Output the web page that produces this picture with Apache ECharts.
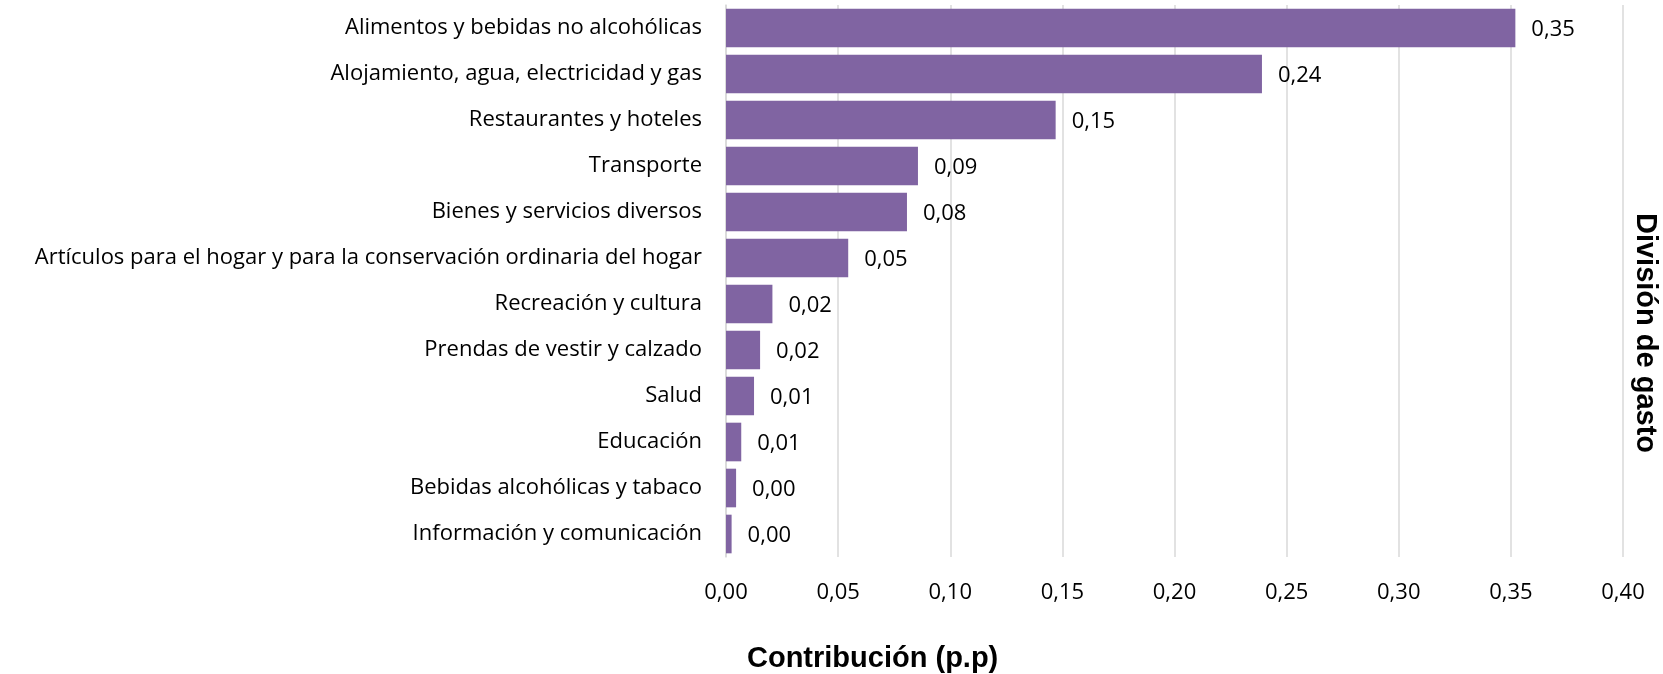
<!DOCTYPE html>
<html>
<head>
<meta charset="utf-8">
<script src="https://cdn.jsdelivr.net/npm/echarts@6/dist/echarts.min.js"></script>
<style>
html,body{margin:0;padding:0;background:#fff;}
#chart{width:1663px;height:674px;}
</style>
</head>
<body>
<div id="chart"></div>
<script>
const categories = [
  "Alimentos y bebidas no alcohólicas",
  "Alojamiento, agua, electricidad y gas",
  "Restaurantes y hoteles",
  "Transporte",
  "Bienes y servicios diversos",
  "Artículos para el hogar y para la conservación ordinaria del hogar",
  "Recreación y cultura",
  "Prendas de vestir y calzado",
  "Salud",
  "Educación",
  "Bebidas alcohólicas y tabaco",
  "Información y comunicación"
];
const values = [0.352, 0.239, 0.147, 0.0856, 0.0807, 0.0545, 0.0207, 0.0152, 0.0125, 0.0068, 0.0045, 0.0025];
const xTicks = { min: 0, max: 0.4, interval: 0.05 };
const xTitle = "Contribución (p.p)";
const yTitle = "División de gasto";

const fmt = v => Number(v).toFixed(2).replace('.', ',');
const chart = echarts.init(document.getElementById('chart'), null, {renderer: 'canvas'});
chart.setOption({
  animation: false,
  grid: { left: 726, right: 40, top: 5, bottom: 117, containLabel: false },
  xAxis: {
    type: 'value', min: xTicks.min, max: xTicks.max, interval: xTicks.interval,
    axisLine: { show: false }, axisTick: { show: false },
    splitLine: { show: true, lineStyle: { color: '#d9d9d9', width: 1.5 } },
    axisLabel: { formatter: fmt, color: '#000', fontFamily: 'Open Sans', fontSize: 22, margin: 25 }
  },
  yAxis: {
    type: 'category', data: categories, inverse: true,
    axisLine: { show: true, lineStyle: { color: '#d9d9d9', width: 1.5 } },
    axisTick: { show: false },
    axisLabel: { color: '#000', fontFamily: 'Open Sans', fontSize: 22, margin: 24 }
  },
  series: [{
    type: 'bar', data: values, barCategoryGap: '16%',
    itemStyle: { color: '#8064A2' },
    label: { show: true, position: 'right', distance: 16, offset: [0, 2], formatter: p => fmt(p.value),
             color: '#000', fontFamily: 'Open Sans', fontSize: 22 }
  }],
  graphic: [
    { type: 'text', x: 747, y: 659,
      style: { text: xTitle, font: 'bold 29px "Liberation Sans", Arial, sans-serif', fill: '#000',
               align: 'left', verticalAlign: 'middle' } },
    { type: 'text', x: 1645, y: 333, rotation: -Math.PI / 2,
      style: { text: yTitle, font: 'bold 29px "Liberation Sans", Arial, sans-serif', fill: '#000',
               align: 'center', verticalAlign: 'middle' } }
  ]
});
</script>
</body>
</html>
